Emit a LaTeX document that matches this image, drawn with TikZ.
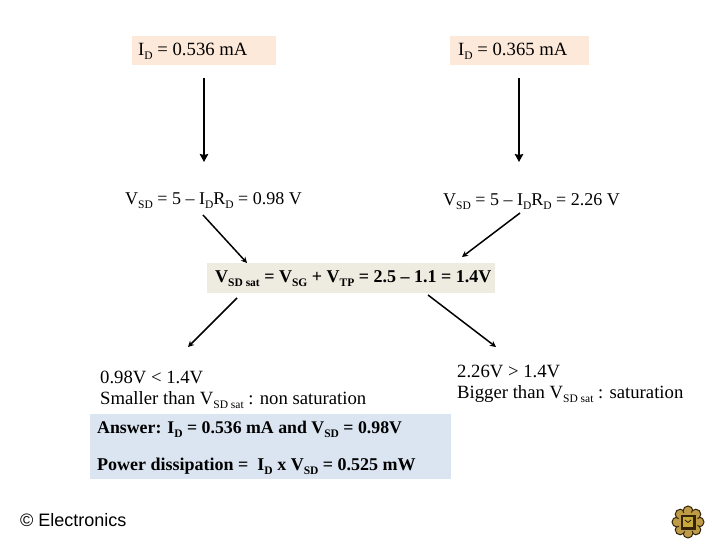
\documentclass[tikz,border=0pt]{standalone}
\usepackage{fontspec}
\setmainfont{Liberation Serif}
\newfontfamily\arialfont{Liberation Sans}
\usetikzlibrary{arrows.meta}
\newcommand{\sbs}[1]{\raisebox{-0.22em}{\fontsize{11.5}{11.5}\selectfont #1}}
\definecolor{peach}{RGB}{253,233,217}
\definecolor{beige}{RGB}{238,236,225}
\definecolor{paleblue}{RGB}{219,229,241}
\definecolor{gold}{RGB}{190,155,70}
\definecolor{darkbrown}{RGB}{50,35,10}
\tikzset{
  x=1pt,y=-1pt,
  lbl/.style={inner sep=0pt,text=black,anchor=west,font=\fontsize{18}{21.5}\selectfont,align=left},
  widelbl/.style={lbl,font=\fontsize{18.7}{21.5}\selectfont},
  boldlbl/.style={lbl,font=\fontsize{18}{21.5}\selectfont\bfseries},
  conn/.style={draw=black,line width=1.5pt,-{Stealth[length=6pt,width=6pt]}},
  bigconn/.style={draw=black,line width=1.8pt,-{Stealth[length=8pt,width=8.5pt,inset=1pt]}},
  petal/.style={fill=gold,draw=darkbrown,line width=1pt},
}
\begin{document}
\begin{tikzpicture}
\useasboundingbox (0,0) rectangle (720,540);
\fill[white] (0,0) rectangle (720,540);
% bands
\fill[peach] (132,36) rectangle (276,65);
\fill[peach] (450,36) rectangle (589,65);
\fill[beige] (207,263) rectangle (495,293);
\fill[paleblue] (90,414) rectangle (451,479);
% text
\node[widelbl] (t1) at (138,51) {I\sbs{D} = 0.536 mA};
\node[widelbl] (t2) at (458,51) {I\sbs{D} = 0.365 mA};
\node[lbl] (v1) at (125,201) {V\sbs{SD} = 5 – I\sbs{D}R\sbs{D} = 0.98 V};
\node[lbl] (v2) at (443,202) {V\sbs{SD} = 5 – I\sbs{D}R\sbs{D} = 2.26 V};
\node[boldlbl] (sat) at (215,279) {V\sbs{SD sat} = V\sbs{SG} + V\sbs{TP} = 2.5 – 1.1 = 1.4V};
\node[widelbl] (n1) at (100,390) {0.98V < 1.4V\\Smaller than V\sbs{SD sat} : non saturation};
\node[widelbl] (n2) at (457,384) {2.26V > 1.4V\\Bigger than V\sbs{SD sat} : saturation};
\node[boldlbl,font=\fontsize{17.8}{21}\selectfont\bfseries] (ans) at (97,429) {Answer: I\sbs{D} = 0.536 mA and V\sbs{SD} = 0.98V};
\node[boldlbl] (pow) at (97,466) {Power dissipation =\ \ I\sbs{D} x V\sbs{SD} = 0.525 mW};
\node[lbl,font=\fontsize{18}{21}\selectfont\arialfont] (copy) at (20,520) {© Electronics};
% connectors
\draw[bigconn] ([shift={(66,27)}]t1.west) -- ([shift={(79,-39)}]v1.west);
\draw[bigconn] ([shift={(61,27)}]t2.west) -- ([shift={(76,-40)}]v2.west);
\draw[conn] ([shift={(78,14)}]v1.west) -- ([shift={(32,-16)}]sat.west);
\draw[conn] ([shift={(77,11)}]v2.west) -- ([shift={(247,-22)}]sat.west);
\draw[conn] ([shift={(22,19)}]sat.west) -- ([shift={(88,-43)}]n1.west);
\draw[conn] ([shift={(213,16)}]sat.west) -- ([shift={(39,-37)}]n2.west);
% emblem
\foreach \a in {0,45,...,315}{
  \fill[petal] (688,522) ++(\a:11) circle (5);
}
\fill[gold] (688,522) circle (10);
\fill[darkbrown] (680.5,514.5) rectangle (695.5,529.5);
\fill[gold!85!yellow] (683,517) rectangle (693,527);
\draw[darkbrown,line width=0.9pt] (685,520) -- (688,522.5) -- (691,520);
\end{tikzpicture}
\end{document}
